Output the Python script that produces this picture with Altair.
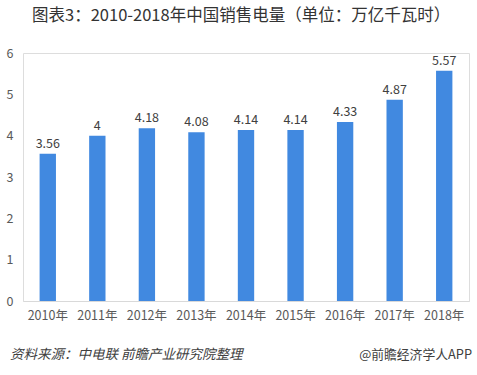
import altair as alt
import pandas as pd

years = ["2010年", "2011年", "2012年", "2013年", "2014年", "2015年", "2016年", "2017年", "2018年"]
values = [3.56, 4, 4.18, 4.08, 4.14, 4.14, 4.33, 4.87, 5.57]
labels = ["3.56", "4", "4.18", "4.08", "4.14", "4.14", "4.33", "4.87", "5.57"]

df = pd.DataFrame({"year": years, "value": values, "label": labels})
FONT = "Noto Sans CJK SC"

base = alt.Chart(df).encode(
    x=alt.X("year:N", sort=years, title=None,
            scale=alt.Scale(paddingInner=0.67, paddingOuter=0.335),
            axis=alt.Axis(labelAngle=0, labelFontSize=12.5, labelColor="#595959", labelFont=FONT,
                          domainColor="#d9d9d9", ticks=False, labelPadding=8)),
    y=alt.Y("value:Q", title=None,
            scale=alt.Scale(domain=[0, 6]),
            axis=alt.Axis(values=[0, 1, 2, 3, 4, 5, 6], grid=False, domain=False, ticks=False,
                          labelFontSize=12.5, labelColor="#595959", labelFont=FONT, labelPadding=10)),
)

bars = base.mark_bar(color="#4189E0")
text = base.mark_text(dy=-10, fontSize=12.5, color="#404040", font=FONT).encode(text="label:N")

src = alt.Chart(pd.DataFrame({"t": ["资料来源：中电联 前瞻产业研究院整理"]})).mark_text(
    align="left", baseline="middle", fontSize=13.5, fontStyle="italic", color="#404040", font=FONT
).encode(text="t:N", x=alt.value(-13), y=alt.value(302))
brand = alt.Chart(pd.DataFrame({"t": ["@前瞻经济学人APP"]})).mark_text(
    align="right", baseline="middle", fontSize=12.8, color="#404040", font=FONT
).encode(text="t:N", x=alt.value(449), y=alt.value(302))

chart = (bars + text + src + brand).properties(
    width=446, height=248,
    autosize=alt.AutoSizeParams(type="none"),
    padding={"left": 23, "top": 53, "right": 8, "bottom": 74},
    title=alt.TitleParams("图表3：2010-2018年中国销售电量（单位：万亿千瓦时）", anchor="start", frame="group",
                          dx=9, offset=23, fontSize=16.5, fontWeight="normal", color="#333333", font=FONT),
).configure_view(stroke=None).configure(background="white")

chart.save("out.html", embed_options={"renderer": "svg", "actions": False})
